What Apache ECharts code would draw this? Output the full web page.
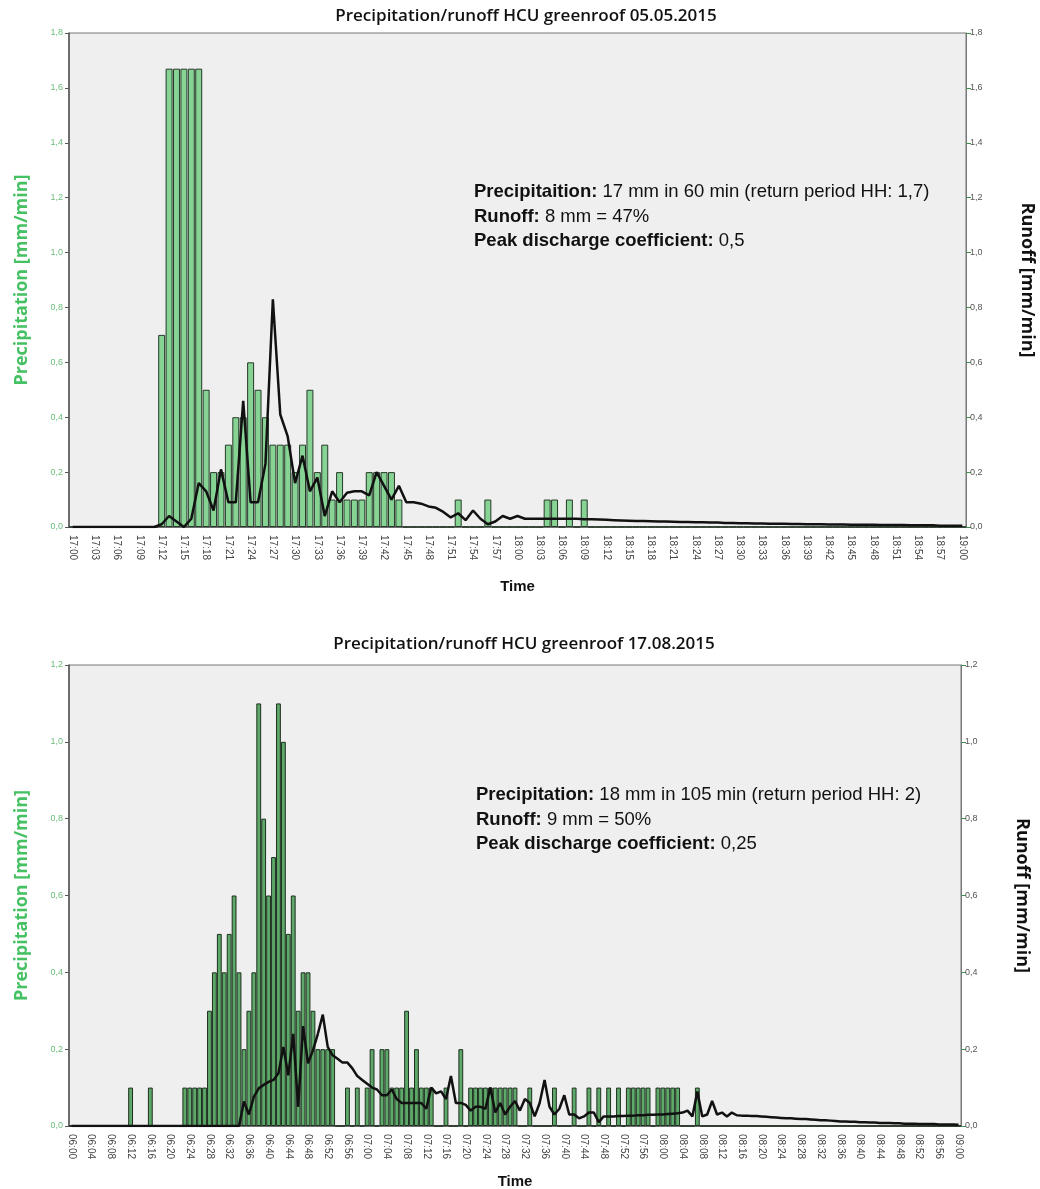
<!DOCTYPE html>
<html>
<head>
<meta charset="utf-8">
<script src="https://cdn.jsdelivr.net/npm/echarts@6/dist/echarts.min.js"></script>
<style>
  html, body { margin: 0; padding: 0; background: #fff; }
  #chart { width: 1040px; height: 1189px; }
</style>
</head>
<body>
<div id="chart"></div>
<script>
// minute labels for each event
function makeTimes(h, m, count) {
    var out = [];
    for (var i = 0; i < count; i++) {
        var t = h * 60 + m + i;
        var hh = Math.floor(t / 60), mm = t % 60;
        out.push((hh < 10 ? '0' : '') + hh + ':' + (mm < 10 ? '0' : '') + mm);
    }
    return out;
}
var timesMay = makeTimes(17, 0, 121);   // 17:00 - 19:00
var timesAug = makeTimes(6, 0, 181);    // 06:00 - 09:00

// 05.05.2015 precipitation [mm/min]
var precipMay = [
    0,0,0,0,0,0,0,0,0,0,
    0,0,0.7,1.67,1.67,1.67,1.67,1.67,0.5,0.2,
    0.2,0.3,0.4,0.4,0.6,0.5,0.4,0.3,0.3,0.3,
    0.2,0.3,0.5,0.2,0.3,0.1,0.2,0.1,0.1,0.1,
    0.2,0.2,0.2,0.2,0.1,0,0,0,0,0,
    0,0,0.1,0,0,0,0.1,0,0,0,
    0,0,0,0,0.1,0.1,0,0.1,0,0.1,
    0,0,0,0,0,0,0,0,0,0,
    0,0,0,0,0,0,0,0,0,0,
    0,0,0,0,0,0,0,0,0,0,
    0,0,0,0,0,0,0,0,0,0,
    0,0,0,0,0,0,0,0,0,0,
    0
];
// 05.05.2015 runoff [mm/min]
var runoffMay = [
    0,0,0,0,0,0,0,0,0,0,
    0,0,0.01,0.04,0.02,0,0.03,0.16,0.13,0.06,
    0.21,0.09,0.09,0.46,0.09,0.09,0.23,0.83,0.41,0.33,
    0.16,0.26,0.13,0.18,0.04,0.13,0.09,0.125,0.13,0.13,
    0.115,0.2,0.15,0.1,0.15,0.09,0.09,0.085,0.075,0.07,
    0.055,0.035,0.05,0.025,0.06,0.03,0.01,0.02,0.04,0.03,
    0.04,0.03,0.03,0.03,0.03,0.03,0.03,0.03,0.03,0.028,
    0.028,0.027,0.026,0.025,0.024,0.023,0.022,0.022,0.021,0.02,
    0.02,0.019,0.018,0.018,0.017,0.017,0.016,0.016,0.015,0.015,
    0.014,0.014,0.013,0.013,0.012,0.012,0.012,0.011,0.011,0.01,
    0.01,0.01,0.009,0.009,0.009,0.008,0.008,0.008,0.008,0.007,
    0.007,0.007,0.007,0.006,0.006,0.006,0.006,0.005,0.005,0.005,
    0.005
];

// 17.08.2015 precipitation [mm/min]
var precipAug = [
    0,0,0,0,0,0,0,0,0,0,
    0,0,0.1,0,0,0,0.1,0,0,0,
    0,0,0,0.1,0.1,0.1,0.1,0.1,0.3,0.4,
    0.5,0.4,0.5,0.6,0.4,0.2,0.3,0.4,1.1,0.8,
    0.6,0.7,1.1,1.0,0.5,0.6,0.3,0.4,0.4,0.3,
    0.2,0.2,0.2,0.2,0,0,0.1,0,0.1,0,
    0.1,0.2,0,0.2,0.2,0.1,0.1,0.1,0.3,0.1,
    0.2,0.1,0.1,0.1,0,0,0.1,0,0,0.2,
    0,0.1,0.1,0.1,0.1,0.1,0.1,0.1,0.1,0.1,
    0.1,0,0,0.1,0,0,0,0,0.1,0,
    0,0,0.1,0,0,0.1,0,0.1,0,0.1,
    0,0.1,0,0.1,0.1,0.1,0.1,0.1,0,0.1,
    0.1,0.1,0.1,0.1,0,0,0,0.1,0,0,
    0,0,0,0,0,0,0,0,0,0,
    0,0,0,0,0,0,0,0,0,0,
    0,0,0,0,0,0,0,0,0,0,
    0,0,0,0,0,0,0,0,0,0,
    0,0,0,0,0,0,0,0,0,0,
    0
];
// 17.08.2015 runoff [mm/min]
var runoffAug = [
    0,0,0,0,0,0,0,0,0,0,
    0,0,0,0,0,0,0,0,0,0,
    0,0,0,0,0,0,0,0,0,0,
    0,0,0,0,0,0.064,0.03,0.076,0.098,0.107,
    0.115,0.12,0.137,0.206,0.132,0.24,0.05,0.26,0.163,0.197,
    0.24,0.29,0.206,0.184,0.175,0.165,0.165,0.15,0.13,0.12,
    0.11,0.1,0.095,0.08,0.08,0.095,0.07,0.06,0.06,0.06,
    0.06,0.06,0.045,0.1,0.085,0.09,0.07,0.13,0.06,0.06,
    0.055,0.04,0.05,0.05,0.045,0.1,0.035,0.06,0.03,0.05,
    0.065,0.04,0.07,0.06,0.025,0.06,0.12,0.05,0.03,0.045,
    0.08,0.03,0.03,0.02,0.025,0.035,0.035,0.01,0.025,0.025,
    0.025,0.026,0.026,0.027,0.027,0.028,0.028,0.029,0.029,0.03,
    0.03,0.031,0.032,0.033,0.035,0.04,0.025,0.09,0.025,0.03,
    0.065,0.03,0.035,0.025,0.035,0.028,0.027,0.027,0.026,0.026,
    0.025,0.024,0.023,0.022,0.021,0.02,0.02,0.019,0.018,0.018,
    0.017,0.016,0.015,0.015,0.014,0.013,0.012,0.012,0.011,0.011,
    0.01,0.01,0.009,0.009,0.008,0.008,0.008,0.007,0.007,0.006,
    0.006,0.006,0.005,0.005,0.005,0.005,0.004,0.004,0.004,0.004,
    0.003
];

var titles = ['Precipitation/runoff HCU greenroof 05.05.2015', 'Precipitation/runoff HCU greenroof 17.08.2015'];
var notesMay = [
    '{b|Precipitaition:} 17 mm in 60 min (return period HH: 1,7)',
    '{b|Runoff:} 8 mm = 47%',
    '{b|Peak discharge coefficient:} 0,5'
];
var notesAug = [
    '{b|Precipitation:} 18 mm in 105 min (return period HH: 2)',
    '{b|Runoff:} 9 mm = 50%',
    '{b|Peak discharge coefficient:} 0,25'
];

var chart = echarts.init(document.getElementById('chart'));

function fmt(v) { return v.toFixed(1).replace('.', ','); }

function xAx(idx, data, step, gap) {
    return {
        type: 'category', gridIndex: idx, data: data, boundaryGap: true,
        axisLine: { lineStyle: { color: '#555', width: 1.5 } },
        axisTick: { interval: step - 1, alignWithLabel: true, length: 6, lineStyle: { color: '#444' } },
        axisLabel: { interval: step - 1, rotate: -90, fontSize: 10, color: '#444', fontFamily: 'Liberation Sans', margin: 8 },
        name: 'Time', nameLocation: 'middle', nameGap: gap,
        nameTextStyle: { fontWeight: 'bold', fontSize: 15, color: '#111', fontFamily: 'Liberation Sans' }
    };
}
function yLeft(idx, max) {
    return {
        type: 'value', gridIndex: idx, min: 0, max: max, interval: 0.2,
        splitLine: { show: false },
        axisLine: { show: true, lineStyle: { color: '#555', width: 1.5 } },
        axisTick: { show: true, length: 4, lineStyle: { color: '#555' } },
        axisLabel: { formatter: fmt, fontSize: 9, color: '#6cbf7c', fontFamily: 'Liberation Sans', margin: 6 },
        name: 'Precipitation [mm/min]', nameLocation: 'middle', nameGap: 38,
        nameTextStyle: { color: '#45c062', fontWeight: 'bold', fontSize: 18, fontFamily: 'Open Sans' }
    };
}
function yRight(idx, max) {
    return {
        type: 'value', gridIndex: idx, position: 'right', min: 0, max: max, interval: 0.2,
        splitLine: { show: false },
        axisLine: { show: true, lineStyle: { color: '#777', width: 1 } },
        axisTick: { show: true, length: 5, lineStyle: { color: '#3f8f52' } },
        axisLabel: { formatter: fmt, fontSize: 9, color: '#555', fontFamily: 'Liberation Sans', margin: 4 },
        name: 'Runoff [mm/min]', nameLocation: 'middle', nameGap: 52, nameRotate: -90,
        nameTextStyle: { color: '#111', fontWeight: 'bold', fontSize: 18, fontFamily: 'Open Sans' }
    };
}
function note(lines, x, y) {
    return {
        type: 'text', left: x, top: y, z: 100,
        style: {
            text: lines.join('\n'),
            font: '18.5px "Liberation Sans"', fill: '#111', lineHeight: 24.5,
            rich: { b: { fontWeight: 'bold', fontSize: 18.5, fontFamily: 'Liberation Sans', fill: '#111', lineHeight: 24.5 } }
        }
    };
}

option = {
    animation: false,
    backgroundColor: '#fff',
    graphic: [
        { type: 'text', x: 526, y: 8, style: { text: titles[0], textAlign: 'center', font: '600 17px "Open Sans"', fill: '#111' } },
        { type: 'text', x: 524, y: 636, style: { text: titles[1], textAlign: 'center', font: '600 17px "Open Sans"', fill: '#111' } },
        note(notesMay, 474, 180),
        note(notesAug, 476, 783)
    ],
    grid: [
        { left: 69, top: 33, width: 897, height: 494, outerBoundsMode: 'none', show: true, backgroundColor: '#efefef', borderColor: '#777', borderWidth: 1 },
        { left: 69, top: 665, width: 892, height: 461, outerBoundsMode: 'none', show: true, backgroundColor: '#efefef', borderColor: '#777', borderWidth: 1 }
    ],
    xAxis: [xAx(0, timesMay, 3, 52), xAx(1, timesAug, 4, 48)],
    yAxis: [yLeft(0, 1.8), yRight(0, 1.8), yLeft(1, 1.2), yRight(1, 1.2)],
    series: [
        {
            name: 'Precipitation', type: 'bar', xAxisIndex: 0, yAxisIndex: 0, data: precipMay,
            barCategoryGap: '6%',
            itemStyle: { color: '#86d394', borderColor: '#263a29', borderWidth: 1 }
        },
        {
            name: 'Runoff', type: 'line', xAxisIndex: 0, yAxisIndex: 1, data: runoffMay,
            showSymbol: false, lineStyle: { color: '#111', width: 2.5 }, z: 5
        },
        {
            name: 'Precipitation', type: 'bar', xAxisIndex: 1, yAxisIndex: 2, data: precipAug,
            barCategoryGap: '2%',
            itemStyle: { color: '#5ea869', borderColor: '#1d301f', borderWidth: 1 }
        },
        {
            name: 'Runoff', type: 'line', xAxisIndex: 1, yAxisIndex: 3, data: runoffAug,
            showSymbol: false, lineStyle: { color: '#111', width: 2.5 }, z: 5
        }
    ]
};
option && chart.setOption(option);
</script>
</body>
</html>
